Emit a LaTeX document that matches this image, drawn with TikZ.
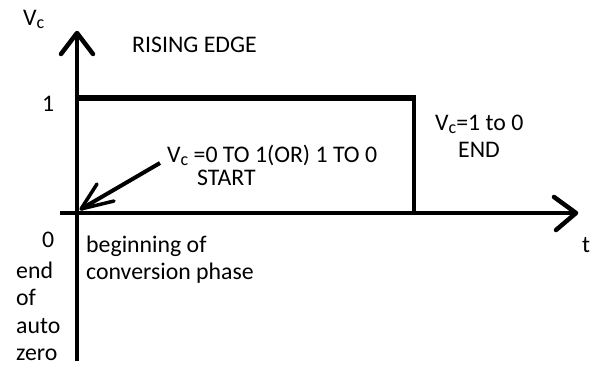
\documentclass[tikz,border=0pt]{standalone}
\usepackage{fontspec}
\setmainfont{Carlito}
\newcommand{\Vsub}{V\raisebox{-3pt}{\fontsize{18}{18}\selectfont c}}
\begin{document}
\begin{tikzpicture}[x=1pt,y=-1pt,
  lbl/.style={anchor=base west,inner sep=0pt,font=\fontsize{23.8}{27}\selectfont},
  axis/.style={line width=4.5pt},
  arm/.style={line width=4.5pt,line cap=round,line join=round},
  pulse/.style={line width=4pt}]
\useasboundingbox (0,0) rectangle (596,365);
% coordinates
\coordinate (ytop) at (77,33);
\coordinate (ybot) at (77,361);
\coordinate (yarmL) at (61,54);
\coordinate (yarmR) at (93,54);
\coordinate (xleft) at (60,213);
\coordinate (xtip) at (576,213);
\coordinate (xarmU) at (554,197);
\coordinate (xarmD) at (556,230);
\coordinate (p1) at (77,98);
\coordinate (p2) at (416,98);
\coordinate (p3) at (414,98);
\coordinate (p4) at (414,213);
\coordinate (aS) at (160,163);
\coordinate (aT) at (81,209);
\coordinate (aA1) at (97,184);
\coordinate (aA2) at (114,201);
% axes
\draw[axis] (ybot) -- (ytop);
\draw[arm] (yarmL) -- (ytop) -- (yarmR);
\draw[axis] (xleft) -- (xtip);
\draw[arm] (xarmU) -- (xtip) -- (xarmD);
% pulse
\draw[line width=5.5pt] (p1) -- (p2);
\draw[pulse] (p3) -- (p4);
% start arrow
\draw[line width=4pt] (aS) -- (aT);
\draw[line width=3.5pt,line cap=round,line join=round] (aA1) -- (aT) -- (aA2);
% labels
\node[lbl] (vc) at (23,25) {\Vsub};
\node[lbl] (rise) at (132,52) {RISING EDGE};
\node[lbl] (one) at (42,111) {1};
\node[lbl] (start1) at (167,162) {\Vsub{} =0 TO 1(OR) 1 TO 0};
\node[lbl] (start2) at (197,185) {START};
\node[lbl] (end1) at (435,130) {\Vsub=1 to 0};
\node[lbl] (end2) at (458,157) {END};
\node[lbl] (t) at (582,252) {t};
\node[lbl] (zero) at (42,247) {0};
\node[lbl] (e1) at (16,278) {end};
\node[lbl] (e2) at (16,305) {of};
\node[lbl] (e3) at (16,333) {auto};
\node[lbl] (e4) at (16,360) {zero};
\node[lbl] (b1) at (86,252) {beginning of};
\node[lbl] (b2) at (86,279) {conversion phase};
\end{tikzpicture}
\end{document}
